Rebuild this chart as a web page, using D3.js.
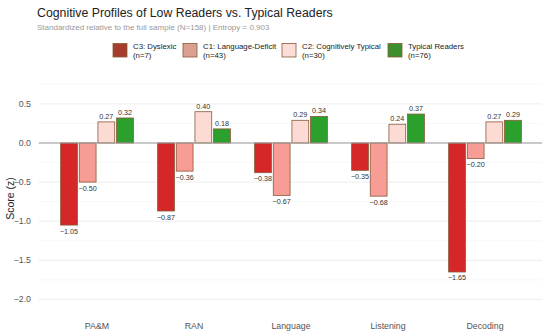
<!DOCTYPE html>
<html>
<head>
<meta charset="utf-8">
<script src="https://cdn.jsdelivr.net/npm/d3@7"></script>
<style>
  body { margin: 0; background: #fff; }
  svg { font-family: "Liberation Sans", Arial, sans-serif; }
</style>
</head>
<body>
<div id="chart"></div>
<script>
// measures on the x axis
const measures = ["PA&M", "RAN", "Language", "Listening", "Decoding"];

// groups and their sizes
const groups = ["C3: Dyslexic", "C1: Language-Deficit", "C2: Cognitively Typical", "Typical Readers"];
const groupN = [7, 43, 30, 76];

// mean z-scores, one array per group, in measure order
const c3Values = [-1.05, -0.87, -0.38, -0.35, -1.65];
const c1Values = [-0.50, -0.36, -0.67, -0.68, -0.20];
const c2Values = [0.27, 0.40, 0.29, 0.24, 0.27];
const trValues = [0.32, 0.18, 0.34, 0.37, 0.29];

const yTicks = [0.5, 0.0, -0.5, -1.0, -1.5, -2.0];

const width = 550, height = 336;
const fills = ["#d62728", "#f89c96", "#fddbd5", "#2ca02c"];
const swatchFills = ["#a63c2c", "#dca090", "#f9ddd6", "#3d8f2b"];
const strokeCol = "#8a5a3a";

const series = [c3Values, c1Values, c2Values, trValues];
const data = [];
measures.forEach((m, i) => {
    groups.forEach((g, j) => data.push({ measure: m, group: g, value: series[j][i] }));
});

const svg = d3.select("#chart").append("svg")
    .attr("width", width)
    .attr("height", height);

const panel = { left: 38.8, right: 542, top: 82, bottom: 315 };

const x = d3.scaleBand()
    .domain(measures)
    .range([48.5, 533.5]);

const xInner = d3.scaleBand()
    .domain(groups)
    .range([0, x.bandwidth() * 0.75])
    .paddingInner(0.1);

const y = d3.scaleLinear()
    .domain([-2.2, 0.78])
    .range([panel.bottom, panel.top]);

// grid
const minor = d3.range(-2.25, 0.8, 0.25).filter(v => v > -2.2 && Math.abs(v * 2 - Math.round(v * 2)) > 0.01);
svg.append("g").selectAll("line.minor")
    .data(minor)
    .join("line")
    .attr("x1", panel.left).attr("x2", panel.right)
    .attr("y1", d => y(d)).attr("y2", d => y(d))
    .attr("stroke", "#f4f4f4").attr("stroke-width", 0.6);

svg.append("g").selectAll("line.major")
    .data(yTicks)
    .join("line")
    .attr("x1", panel.left).attr("x2", panel.right)
    .attr("y1", d => y(d)).attr("y2", d => y(d))
    .attr("stroke", "#ebebeb").attr("stroke-width", 0.9);

// y tick labels
svg.append("g").selectAll("text")
    .data(yTicks)
    .join("text")
    .attr("x", 31)
    .attr("y", d => y(d) + 3)
    .attr("text-anchor", "end")
    .attr("font-size", 8.8)
    .attr("fill", "#555")
    .text(d => d3.format(".1f")(d).replace("-", "\u2212"));

// x labels
svg.append("g").selectAll("text")
    .data(measures)
    .join("text")
    .attr("x", d => x(d) + x.bandwidth() / 2)
    .attr("y", 329)
    .attr("text-anchor", "middle")
    .attr("font-size", 8.8)
    .attr("fill", "#555")
    .text(d => d);

// y title
svg.append("text")
    .attr("transform", `translate(14,${(panel.top + panel.bottom) / 2}) rotate(-90)`)
    .attr("text-anchor", "middle")
    .attr("font-size", 10.5)
    .attr("fill", "#222")
    .text("Score (z)");

// bars
const groupLeft = d => x(d.measure) + x.bandwidth() * 0.125 + xInner(d.group);
svg.append("g").selectAll("rect")
    .data(data)
    .join("rect")
    .attr("x", groupLeft)
    .attr("width", xInner.bandwidth())
    .attr("y", d => y(Math.max(0, d.value)))
    .attr("height", d => Math.abs(y(d.value) - y(0)))
    .attr("fill", d => fills[groups.indexOf(d.group)])
    .attr("stroke", strokeCol)
    .attr("stroke-width", 0.8);

// zero line
svg.append("line")
    .attr("x1", panel.left).attr("x2", panel.right)
    .attr("y1", y(0)).attr("y2", y(0))
    .attr("stroke", "#9a9a9a").attr("stroke-width", 1);

// value labels
svg.append("g").selectAll("text")
    .data(data)
    .join("text")
    .attr("x", d => groupLeft(d) + xInner.bandwidth() / 2)
    .attr("y", d => d.value >= 0 ? y(d.value) - 3 : y(d.value) + 8.5)
    .attr("text-anchor", "middle")
    .attr("font-size", 7.2)
    .attr("fill", "#333")
    .text(d => d3.format(".2f")(d.value).replace("-", "\u2212"));

// title + subtitle
svg.append("text")
    .attr("x", 37).attr("y", 17)
    .attr("font-size", 12.3)
    .attr("fill", "#222")
    .text("Cognitive Profiles of Low Readers vs. Typical Readers");

svg.append("text")
    .attr("x", 37).attr("y", 29.5)
    .attr("font-size", 8.0)
    .attr("fill", "#999")
    .text("Standardized relative to the full sample (N=158) | Entropy = 0.903");

// legend
const legendX = [113, 183, 282, 388];
const legend = svg.append("g").selectAll("g")
    .data(groups)
    .join("g")
    .attr("transform", (d, i) => `translate(${legendX[i]},43.5)`);

legend.append("rect")
    .attr("width", 14).attr("height", 13.5)
    .attr("fill", (d, i) => swatchFills[i])
    .attr("stroke", strokeCol)
    .attr("stroke-width", 0.8);

legend.append("text")
    .attr("x", 20).attr("y", 5)
    .attr("font-size", 7.8)
    .attr("fill", "#222")
    .text(d => d);

legend.append("text")
    .attr("x", 20).attr("y", 14)
    .attr("font-size", 7.8)
    .attr("fill", "#222")
    .text((d, i) => `(n=${groupN[i]})`);
</script>
</body>
</html>
